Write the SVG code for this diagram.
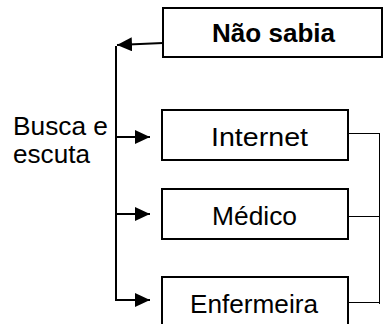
<svg xmlns="http://www.w3.org/2000/svg" width="384" height="324" viewBox="0 0 384 324">
<style>
.box{fill:#fff;stroke:#000;stroke-width:2}
.t{font-family:"Liberation Sans",Arial,sans-serif;font-size:25px;fill:#000}
.b{font-weight:bold}
.ln{stroke:#000;stroke-width:2;fill:none}
.thin{stroke:#000;stroke-width:1;fill:none}
</style>
<defs>
<marker id="ah" markerUnits="userSpaceOnUse" markerWidth="16" markerHeight="14" refX="15" refY="7" orient="auto">
<path d="M0,0 L15,7 L0,14 Z" fill="#000"/>
</marker>
</defs>
<rect width="384" height="324" fill="#fff"/>
<g id="connectors">
<line class="ln" x1="163" y1="43" x2="117" y2="45" marker-end="url(#ah)"/>
<line class="ln" x1="116" y1="46" x2="116" y2="301"/>
<line class="ln" x1="116" y1="137" x2="150" y2="137" marker-end="url(#ah)"/>
<line class="ln" x1="116" y1="214" x2="150" y2="214" marker-end="url(#ah)"/>
<line class="ln" x1="116" y1="300" x2="150" y2="300" marker-end="url(#ah)"/>
<line class="thin" x1="348" y1="133.5" x2="380" y2="133.5"/>
<line class="thin" x1="379.5" y1="133" x2="379.5" y2="304"/>
<line class="thin" x1="343" y1="216.5" x2="379" y2="216.5"/>
<line class="thin" x1="343" y1="302.5" x2="379" y2="302.5"/>
</g>
<g id="nao-sabia">
<rect class="box" x="163" y="8" width="219" height="49"/>
<text class="t b" x="212" y="42" textLength="123" lengthAdjust="spacingAndGlyphs">Não sabia</text>
</g>
<g id="busca">
<text class="t" x="13" y="135" textLength="95" lengthAdjust="spacingAndGlyphs">Busca e</text>
<text class="t" x="13" y="163" textLength="77" lengthAdjust="spacingAndGlyphs">escuta</text>
</g>
<g id="internet">
<rect class="box" x="162" y="110" width="186" height="50"/>
<text class="t" x="211" y="146" textLength="97" lengthAdjust="spacingAndGlyphs">Internet</text>
</g>
<g id="medico">
<rect class="box" x="162" y="189" width="186" height="50"/>
<text class="t" x="212" y="225" textLength="85" lengthAdjust="spacingAndGlyphs">Médico</text>
</g>
<g id="enfermeira">
<rect class="box" x="162" y="277" width="186" height="52"/>
<text class="t" x="190" y="313" textLength="128" lengthAdjust="spacingAndGlyphs">Enfermeira</text>
</g>
</svg>
